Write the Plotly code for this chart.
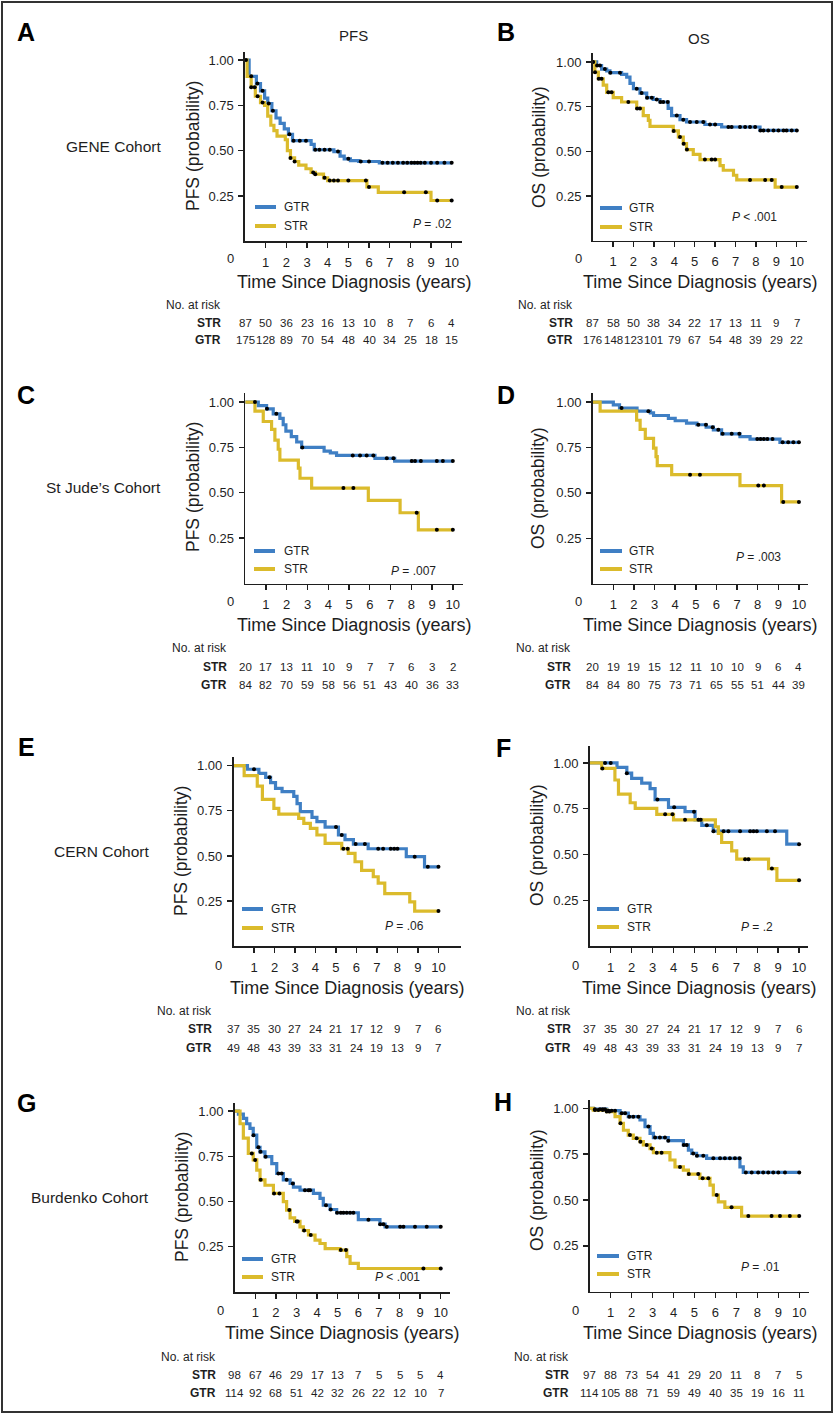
import plotly.graph_objects as go

# ======================= DATA =======================
time_ticks = [0, 1, 2, 3, 4, 5, 6, 7, 8, 9, 10]
y_ticks = [0.25, 0.50, 0.75, 1.00]
y_ticklabels = ["0.25", "0.50", "0.75", "1.00"]
groups = ["GTR", "STR"]

# ---- A: GENE cohort, PFS ----
A_gtr_t = [0.2, 0.55, 0.75, 0.95, 1.1, 1.3, 1.5, 1.7, 1.9, 2.1, 2.3, 3.2, 3.35, 4.3, 4.6, 4.8, 5.1, 5.5, 6.5]
A_gtr_s = [0.91, 0.87, 0.83, 0.79, 0.76, 0.72, 0.68, 0.65, 0.62, 0.59, 0.555, 0.535, 0.505, 0.495, 0.47, 0.455, 0.445, 0.44, 0.433]
A_gtr_c = [0.05, 0.3, 0.6, 0.85, 1.15, 1.35, 2.15, 2.35, 2.65, 2.95, 3.4, 3.6, 3.85, 4.1, 4.5, 5.0, 5.6, 6.0, 6.65, 6.9, 7.15, 7.4, 7.65, 7.85, 8.05, 8.2, 8.35, 8.5, 8.7, 9.0, 9.3, 9.65, 10.0]
A_str_t = [0.1, 0.3, 0.5, 0.75, 0.95, 1.1, 1.25, 1.4, 1.55, 1.95, 2.05, 2.2, 2.4, 2.6, 2.95, 3.2, 3.4, 3.8, 4.0, 5.9, 6.45, 9.0]
A_str_s = [0.91, 0.85, 0.80, 0.765, 0.75, 0.69, 0.64, 0.61, 0.58, 0.56, 0.50, 0.46, 0.44, 0.42, 0.40, 0.38, 0.37, 0.35, 0.335, 0.30, 0.27, 0.225]
A_str_c = [0.3, 0.47, 0.61, 0.85, 2.2, 2.4, 3.3, 3.4, 3.85, 4.1, 4.3, 4.5, 5.0, 5.85, 6.0, 7.7, 8.75, 9.3, 10.0]
A_risk_str = [87, 50, 36, 23, 16, 13, 10, 8, 7, 6, 4]
A_risk_gtr = [175, 128, 89, 70, 54, 48, 40, 34, 25, 18, 15]

# ---- B: GENE cohort, OS ----
B_gtr_t = [0.2, 0.44, 0.69, 0.85, 1.42, 1.67, 1.83, 2.0, 2.32, 2.65, 2.97, 3.3, 3.7, 3.87, 4.28, 4.6, 5.5, 6.32, 8.2]
B_gtr_s = [0.98, 0.96, 0.95, 0.94, 0.93, 0.915, 0.88, 0.85, 0.826, 0.80, 0.79, 0.776, 0.74, 0.70, 0.677, 0.664, 0.65, 0.636, 0.617]
B_gtr_c = [0.03, 0.22, 0.36, 0.6, 0.87, 1.34, 2.16, 2.4, 2.67, 2.9, 3.14, 3.32, 3.46, 3.68, 4.12, 4.44, 4.77, 5.1, 5.42, 5.75, 6.0, 6.65, 6.81, 7.22, 7.47, 7.71, 7.96, 8.22, 8.37, 8.6, 8.86, 9.1, 9.35, 9.5, 9.75, 10.0]
B_str_t = [0.11, 0.28, 0.52, 0.69, 1.01, 1.42, 2.16, 2.48, 2.73, 2.81, 3.95, 4.2, 4.44, 4.6, 4.93, 5.26, 6.24, 6.4, 6.9, 7.06, 8.94]
B_str_s = [0.943, 0.906, 0.87, 0.83, 0.80, 0.776, 0.74, 0.70, 0.673, 0.64, 0.614, 0.58, 0.543, 0.51, 0.483, 0.454, 0.42, 0.394, 0.366, 0.34, 0.30]
B_str_c = [0.12, 0.3, 0.44, 0.77, 0.93, 1.75, 2.18, 2.32, 3.97, 4.28, 4.46, 4.62, 5.5, 5.83, 6.0, 7.71, 8.45, 8.77, 9.26, 10.0]
B_risk_str = [87, 58, 50, 38, 34, 22, 17, 13, 11, 9, 7]
B_risk_gtr = [176, 148, 123, 101, 79, 67, 54, 48, 39, 29, 22]

# ---- C: St Jude's cohort, PFS ----
C_gtr_t = [0.63, 1.03, 1.35, 1.67, 1.83, 1.96, 2.22, 2.48, 2.72, 3.8, 4.1, 4.4, 6.25, 7.2]
C_gtr_s = [0.98, 0.963, 0.935, 0.91, 0.875, 0.84, 0.81, 0.78, 0.75, 0.73, 0.72, 0.706, 0.69, 0.675]
C_gtr_c = [0.47, 1.05, 1.5, 2.75, 5.18, 5.53, 5.85, 6.17, 6.82, 7.14, 8.02, 8.18, 8.46, 9.23, 9.52, 10.0]
C_str_t = [0.47, 0.87, 1.27, 1.43, 1.59, 1.67, 2.56, 2.64, 3.2, 5.93, 7.46, 8.34]
C_str_s = [0.95, 0.893, 0.85, 0.79, 0.74, 0.68, 0.636, 0.58, 0.526, 0.458, 0.39, 0.296]
C_str_c = [4.73, 5.21, 8.26, 9.23, 10.0]
C_risk_str = [20, 17, 13, 11, 10, 9, 7, 7, 6, 3, 2]
C_risk_gtr = [84, 82, 70, 59, 58, 56, 51, 43, 40, 36, 33]

# ---- D: St Jude's cohort, OS ----
D_gtr_t = [1.0, 1.3, 2.15, 2.8, 2.95, 3.67, 4.0, 4.55, 5.05, 5.5, 5.85, 6.25, 7.14, 7.63, 9.08]
D_gtr_s = [0.985, 0.967, 0.95, 0.94, 0.926, 0.91, 0.897, 0.884, 0.875, 0.862, 0.847, 0.825, 0.81, 0.796, 0.778]
D_gtr_c = [1.4, 2.7, 5.12, 5.49, 5.82, 6.09, 6.3, 6.74, 7.11, 7.98, 8.14, 8.3, 8.47, 8.72, 9.21, 9.48, 9.73, 10.0]
D_str_t = [0.36, 2.13, 2.3, 2.55, 2.95, 3.07, 3.13, 3.83, 7.14, 9.16]
D_str_s = [0.95, 0.90, 0.85, 0.80, 0.746, 0.70, 0.65, 0.60, 0.54, 0.45]
D_str_c = [4.72, 5.2, 8.03, 8.3, 9.24, 10.0]
D_risk_str = [20, 19, 19, 15, 12, 11, 10, 10, 9, 6, 4]
D_risk_gtr = [84, 84, 80, 75, 73, 71, 65, 55, 51, 44, 39]

# ---- E: CERN cohort, PFS ----
E_gtr_t = [0.68, 1.24, 1.57, 1.81, 2.05, 2.37, 2.94, 3.1, 3.26, 3.83, 4.07, 4.47, 5.12, 5.44, 5.85, 6.57, 8.43, 9.32]
E_gtr_s = [0.98, 0.957, 0.935, 0.906, 0.874, 0.856, 0.83, 0.79, 0.745, 0.713, 0.69, 0.66, 0.616, 0.59, 0.566, 0.54, 0.496, 0.44]
E_gtr_c = [1.0, 1.76, 5.0, 5.28, 5.96, 6.41, 7.06, 7.3, 7.67, 7.84, 8.0, 8.84, 9.48, 10.0]
E_str_t = [0.52, 1.16, 1.41, 1.97, 2.21, 3.18, 3.43, 3.75, 4.07, 4.47, 5.28, 5.6, 5.93, 6.25, 6.82, 7.06, 7.38, 8.6, 8.84]
E_str_s = [0.945, 0.887, 0.813, 0.763, 0.732, 0.708, 0.68, 0.653, 0.616, 0.57, 0.54, 0.514, 0.468, 0.42, 0.385, 0.35, 0.292, 0.246, 0.195]
E_str_c = [5.36, 5.57, 10.0]
E_risk_str = [37, 35, 30, 27, 24, 21, 17, 12, 9, 7, 6]
E_risk_gtr = [49, 48, 43, 39, 33, 31, 24, 19, 13, 9, 7]

# ---- F: CERN cohort, OS ----
F_gtr_t = [1.3, 1.77, 2.0, 2.48, 2.88, 3.12, 3.76, 4.55, 5.03, 5.35, 5.9, 9.41]
F_gtr_s = [0.976, 0.944, 0.916, 0.89, 0.86, 0.80, 0.758, 0.734, 0.69, 0.66, 0.628, 0.557]
F_gtr_c = [0.73, 1.0, 1.77, 3.23, 4.03, 4.98, 5.19, 5.3, 5.59, 5.91, 6.39, 6.62, 7.18, 7.66, 7.82, 7.98, 8.46, 8.85, 10.0]
F_str_t = [0.57, 1.2, 1.37, 1.93, 2.17, 3.2, 4.0, 6.0, 6.14, 6.3, 6.78, 7.02, 8.54, 8.94]
F_str_s = [0.97, 0.907, 0.83, 0.783, 0.752, 0.72, 0.69, 0.652, 0.616, 0.566, 0.52, 0.475, 0.424, 0.36]
F_str_c = [0.6, 3.6, 3.95, 4.55, 7.42, 7.58, 8.7, 10.0]
F_risk_str = [37, 35, 30, 27, 24, 21, 17, 12, 9, 7, 6]
F_risk_gtr = [49, 48, 43, 39, 33, 31, 24, 19, 13, 9, 7]

# ---- G: Burdenko cohort, PFS ----
G_gtr_t = [0.18, 0.42, 0.58, 0.74, 0.9, 1.07, 1.23, 1.47, 1.8, 2.04, 2.36, 2.69, 2.85, 3.17, 3.82, 4.14, 4.3, 4.63, 4.95, 6.0, 7.05, 7.3]
G_gtr_s = [0.983, 0.96, 0.93, 0.904, 0.867, 0.80, 0.775, 0.748, 0.71, 0.655, 0.62, 0.60, 0.58, 0.563, 0.545, 0.517, 0.48, 0.456, 0.438, 0.40, 0.375, 0.36]
G_gtr_c = [0.91, 1.15, 1.25, 1.5, 2.12, 2.28, 2.52, 2.82, 3.41, 3.58, 3.66, 4.43, 4.66, 4.97, 5.15, 5.28, 5.44, 5.6, 5.76, 6.49, 7.06, 7.22, 7.38, 8.03, 8.19, 8.75, 9.32, 10.0]
G_str_t = [0.26, 0.42, 0.66, 0.9, 1.07, 1.23, 1.47, 1.88, 2.36, 2.52, 2.69, 2.91, 3.17, 3.33, 3.58, 3.9, 4.14, 4.39, 5.11, 5.44, 5.6, 6.0]
G_str_s = [0.93, 0.85, 0.766, 0.73, 0.674, 0.62, 0.59, 0.545, 0.50, 0.453, 0.41, 0.39, 0.36, 0.34, 0.315, 0.287, 0.268, 0.24, 0.232, 0.195, 0.158, 0.13]
G_str_c = [0.83, 0.99, 1.26, 1.91, 2.17, 2.65, 3.01, 3.06, 3.37, 3.69, 5.15, 5.4, 9.16, 10.0]
G_risk_str = [98, 67, 46, 29, 17, 13, 7, 5, 5, 5, 4]
G_risk_gtr = [114, 92, 68, 51, 42, 32, 26, 22, 12, 10, 7]

# ---- H: Burdenko cohort, OS ----
H_gtr_t = [0.17, 0.81, 1.45, 1.84, 2.4, 2.64, 2.88, 3.04, 3.75, 4.47, 4.71, 4.87, 5.1, 5.58, 7.17, 7.33]
H_gtr_s = [0.995, 0.987, 0.973, 0.954, 0.936, 0.90, 0.863, 0.84, 0.823, 0.80, 0.772, 0.754, 0.741, 0.727, 0.68, 0.65]
H_gtr_c = [0.25, 0.49, 0.62, 0.73, 0.89, 1.05, 1.21, 1.53, 1.69, 1.89, 2.08, 2.32, 2.8, 3.12, 3.35, 3.59, 3.75, 4.49, 4.63, 4.94, 5.12, 5.42, 5.9, 6.22, 6.45, 6.69, 6.93, 7.15, 7.45, 7.73, 8.04, 8.28, 8.52, 8.76, 9.0, 9.32, 10.0]
H_str_t = [0.17, 0.81, 1.21, 1.45, 1.61, 1.84, 2.08, 2.4, 2.56, 2.88, 3.04, 3.83, 4.07, 4.47, 4.71, 5.26, 5.74, 5.9, 6.14, 6.45, 7.25]
H_str_s = [0.99, 0.982, 0.954, 0.918, 0.88, 0.854, 0.836, 0.818, 0.80, 0.78, 0.758, 0.718, 0.68, 0.663, 0.641, 0.618, 0.581, 0.527, 0.49, 0.46, 0.412]
H_str_c = [0.25, 0.41, 0.62, 0.81, 0.94, 1.47, 1.92, 2.24, 2.42, 2.72, 2.96, 3.2, 3.43, 4.31, 4.73, 5.18, 5.39, 5.66, 6.06, 6.77, 7.57, 8.68, 9.08, 9.55, 10.0]
H_risk_str = [97, 88, 73, 54, 41, 29, 20, 11, 8, 7, 5]
H_risk_gtr = [114, 105, 88, 71, 59, 49, 40, 35, 19, 16, 11]

# text content
titles = {"A": "PFS", "B": "OS"}
cohorts = {"A": "GENE Cohort", "C": "St Jude\u2019s Cohort", "E": "CERN Cohort", "G": "Burdenko Cohort"}
pvals = {"A": "= .02", "B": "< .001", "C": "= .007", "D": "= .003",
         "E": "= .06", "F": "= .2", "G": "< .001", "H": "= .01"}
ytitles = {"A": "PFS (probability)", "B": "OS (probability)", "C": "PFS (probability)", "D": "OS (probability)",
           "E": "PFS (probability)", "F": "OS (probability)", "G": "PFS (probability)", "H": "OS (probability)"}
xtitle = "Time Since Diagnosis (years)"

panel_data = {
    "A": ((A_gtr_t, A_gtr_s, A_gtr_c), (A_str_t, A_str_s, A_str_c), A_risk_str, A_risk_gtr),
    "B": ((B_gtr_t, B_gtr_s, B_gtr_c), (B_str_t, B_str_s, B_str_c), B_risk_str, B_risk_gtr),
    "C": ((C_gtr_t, C_gtr_s, C_gtr_c), (C_str_t, C_str_s, C_str_c), C_risk_str, C_risk_gtr),
    "D": ((D_gtr_t, D_gtr_s, D_gtr_c), (D_str_t, D_str_s, D_str_c), D_risk_str, D_risk_gtr),
    "E": ((E_gtr_t, E_gtr_s, E_gtr_c), (E_str_t, E_str_s, E_str_c), E_risk_str, E_risk_gtr),
    "F": ((F_gtr_t, F_gtr_s, F_gtr_c), (F_str_t, F_str_s, F_str_c), F_risk_str, F_risk_gtr),
    "G": ((G_gtr_t, G_gtr_s, G_gtr_c), (G_str_t, G_str_s, G_str_c), G_risk_str, G_risk_gtr),
    "H": ((H_gtr_t, H_gtr_s, H_gtr_c), (H_str_t, H_str_s, H_str_c), H_risk_str, H_risk_gtr),
}

# ======================= LAYOUT / STYLE =======================
W, H = 834, 1414
BLUE = "#3f7fc4"
GOLD = "#dbbb2c"
INK = "#1e1e1e"
FONT = "Liberation Sans, Arial, Helvetica, sans-serif"

# geometry in pixels: x0, x1, xmax, ybottom, ytop, ymax
geom = {
    "A": (245.0, 462.0, 10.5, 241.3, 52.0, 1.044),
    "B": (592.6, 807.0, 10.5, 240.7, 53.0, 1.05),
    "C": (245.2, 463.0, 10.49, 583.5, 393.0, 1.05),
    "D": (592.7, 808.0, 10.44, 583.6, 393.0, 1.05),
    "E": (233.5, 461.0, 11.1, 946.3, 757.3, 1.046),
    "F": (589.8, 808.3, 10.44, 946.3, 745.7, 1.094),
    "G": (234.7, 450.0, 10.45, 1292.0, 1103.3, 1.043),
    "H": (589.7, 809.3, 10.48, 1291.7, 1100.0, 1.045),
}
letter_pos = {"A": (26, 32), "B": (506, 32), "C": (26, 395), "D": (506, 395),
              "E": (26, 747), "F": (503, 748), "G": (26, 1103), "H": (503, 1102)}
title_pos = {"A": (353, 36), "B": (699, 38)}
cohort_pos = {"A": (163, 146), "C": (163, 488), "E": (151, 851), "G": (151, 1197)}
ytitle_pos = {"A": (193, 146), "B": (539, 147), "C": (193, 487), "D": (538, 488),
              "E": (181, 851), "F": (537, 845), "G": (182, 1197), "H": (537, 1190)}
xtitle_y = {"A": 282, "B": 282, "C": 625, "D": 625, "E": 988, "F": 988, "G": 1333, "H": 1333}
ticklab_y = {"A": 259, "B": 259, "C": 602, "D": 602, "E": 965, "F": 965, "G": 1310, "H": 1310}
pval_pos = {"A": (432, 224), "B": (754, 217), "C": (413, 571), "D": (758, 557),
            "E": (404, 926), "F": (757, 927), "G": (397, 1277), "H": (760, 1267)}
legend_pos = {"A": (255, 276, 282, 207, 226), "B": (600, 622, 627, 208, 227),
              "C": (254, 275, 282, 551, 569), "D": (600, 622, 627, 551, 569),
              "E": (242, 263, 269, 909, 928), "F": (597, 619, 625, 909, 927),
              "G": (242, 263, 269, 1259, 1277), "H": (597, 619, 625, 1256, 1274)}
risk_pos = {"A": (223, 305, 323, 340), "B": (575, 305, 323, 340),
            "C": (229, 648, 667, 685), "D": (573, 648, 667, 685),
            "E": (214, 1011, 1029, 1048), "F": (573, 1011, 1029, 1048),
            "G": (218, 1357, 1375, 1393), "H": (571, 1357, 1375, 1393)}


def pxx(px):
    return px / W


def pxy(py):
    return 1 - py / H


def step_value(times, vals, t):
    v = 1.0
    for ti, vi in zip(times, vals):
        if ti <= t:
            v = vi
    return v


fig = go.Figure()
layout = dict(width=W, height=H, margin=dict(l=0, r=0, t=0, b=0),
              paper_bgcolor="white", plot_bgcolor="white", showlegend=False,
              font=dict(family=FONT, color=INK))
annotations = []
shapes = []

for i, key in enumerate(["A", "B", "C", "D", "E", "F", "G", "H"]):
    n = "" if i == 0 else str(i + 1)
    xr, yr = "x" + n, "y" + n
    x0, x1, xmax, yb, yt, ymax = geom[key]
    gtr, strg, risk_str, risk_gtr = panel_data[key]

    for (t, s, c), col in ((gtr, BLUE), (strg, GOLD)):
        xs = [0.0] + list(t) + [max(c)]
        ys = [1.0] + list(s) + [s[-1]]
        fig.add_trace(go.Scatter(x=xs, y=ys, mode="lines", line=dict(color=col, width=3.2, shape="hv"),
                                 xaxis=xr, yaxis=yr, hoverinfo="skip"))
    for (t, s, c) in (gtr, strg):
        fig.add_trace(go.Scatter(x=c, y=[step_value(t, s, ci) for ci in c], mode="markers",
                                 marker=dict(color="black", size=4), xaxis=xr, yaxis=yr,
                                 hoverinfo="skip", cliponaxis=False))

    layout["xaxis" + n] = dict(domain=[pxx(x0), pxx(x1)], range=[0, xmax], anchor=yr,
                               showline=True, linecolor=INK, linewidth=1.6, mirror=False,
                               ticks="outside", ticklen=5, tickwidth=1.4, tickcolor=INK,
                               tickvals=time_ticks[1:], ticktext=[str(v) for v in time_ticks[1:]],
                               tickfont=dict(size=13, family=FONT, color=INK), ticklabelstandoff=3,
                               showgrid=False, zeroline=False, fixedrange=True)
    layout["yaxis" + n] = dict(domain=[pxy(yb), pxy(yt)], range=[0, ymax], anchor=xr,
                               showline=True, linecolor=INK, linewidth=1.6,
                               ticks="outside", ticklen=5, tickwidth=1.4, tickcolor=INK,
                               tickvals=y_ticks, ticktext=y_ticklabels,
                               tickfont=dict(size=13, family=FONT, color=INK), ticklabelstandoff=2,
                               showgrid=False, zeroline=False, fixedrange=True)

    # "0" tick label at the origin, offset left
    annotations.append(dict(x=pxx(x0 - 14.5), y=pxy(ticklab_y[key]), xref="paper", yref="paper",
                            text="0", showarrow=False, font=dict(size=13), xanchor="center", yanchor="middle"))
    # panel letter
    lx, ly = letter_pos[key]
    annotations.append(dict(x=pxx(lx), y=pxy(ly), xref="paper", yref="paper", text="<b>%s</b>" % key,
                            showarrow=False, font=dict(size=25, family="Liberation Sans, Arial, sans-serif", color="black"),
                            xanchor="center", yanchor="middle"))
    if key in titles:
        tx, ty = title_pos[key]
        annotations.append(dict(x=pxx(tx), y=pxy(ty), xref="paper", yref="paper", text=titles[key],
                                showarrow=False, font=dict(size=15), xanchor="center", yanchor="middle"))
    if key in cohorts:
        cx, cy = cohort_pos[key]
        annotations.append(dict(x=pxx(cx), y=pxy(cy), xref="paper", yref="paper", text=cohorts[key],
                                showarrow=False, font=dict(size=15.5), xanchor="right", yanchor="middle"))
    # axis titles
    yx, yy = ytitle_pos[key]
    annotations.append(dict(x=pxx(yx), y=pxy(yy), xref="paper", yref="paper", text=ytitles[key],
                            textangle=-90, showarrow=False, font=dict(size=17.5), xanchor="center", yanchor="middle"))
    annotations.append(dict(x=pxx((x0 + x1) / 2), y=pxy(xtitle_y[key]), xref="paper", yref="paper", text=xtitle,
                            showarrow=False, font=dict(size=18), xanchor="center", yanchor="middle"))
    # P value
    px_, py_ = pval_pos[key]
    annotations.append(dict(x=pxx(px_), y=pxy(py_), xref="paper", yref="paper",
                            text="<i>P</i> " + pvals[key], showarrow=False, font=dict(size=12),
                            xanchor="center", yanchor="middle"))
    # legend
    lx0, lx1, ltx, lyg, lys = legend_pos[key]
    for gname, col, ly_ in (("GTR", BLUE, lyg), ("STR", GOLD, lys)):
        shapes.append(dict(type="line", xref="paper", yref="paper", x0=pxx(lx0), x1=pxx(lx1),
                           y0=pxy(ly_), y1=pxy(ly_), line=dict(color=col, width=4)))
        annotations.append(dict(x=pxx(ltx), y=pxy(ly_), xref="paper", yref="paper", text=gname,
                                showarrow=False, font=dict(size=12), xanchor="left", yanchor="middle"))
    # number at risk table
    rx, ry_lab, ry_str, ry_gtr = risk_pos[key]
    annotations.append(dict(x=pxx(rx), y=pxy(ry_lab), xref="paper", yref="paper", text="No. at risk",
                            showarrow=False, font=dict(size=12), xanchor="right", yanchor="middle"))
    for lab, vals, ry in (("STR", risk_str, ry_str), ("GTR", risk_gtr, ry_gtr)):
        annotations.append(dict(x=pxx(rx), y=pxy(ry), xref="paper", yref="paper", text="<b>%s</b>" % lab,
                                showarrow=False, font=dict(size=12), xanchor="right", yanchor="middle"))
        for tt, v in zip(time_ticks, vals):
            annotations.append(dict(x=tt, y=pxy(ry), xref=xr, yref="paper", text=str(v),
                                    showarrow=False, font=dict(size=11.5), xanchor="center", yanchor="middle"))

# outer frame
shapes.append(dict(type="rect", xref="paper", yref="paper", x0=pxx(2), x1=pxx(832), y0=pxy(1412), y1=pxy(2),
                   line=dict(color="#333333", width=2), fillcolor="rgba(0,0,0,0)"))

layout["annotations"] = annotations
layout["shapes"] = shapes
fig.update_layout(**layout)
fig.write_html("out.html", include_plotlyjs=True,
               config={"displayModeBar": False, "staticPlot": True},
               post_script="document.body.style.margin='0';document.body.style.padding='0';")
